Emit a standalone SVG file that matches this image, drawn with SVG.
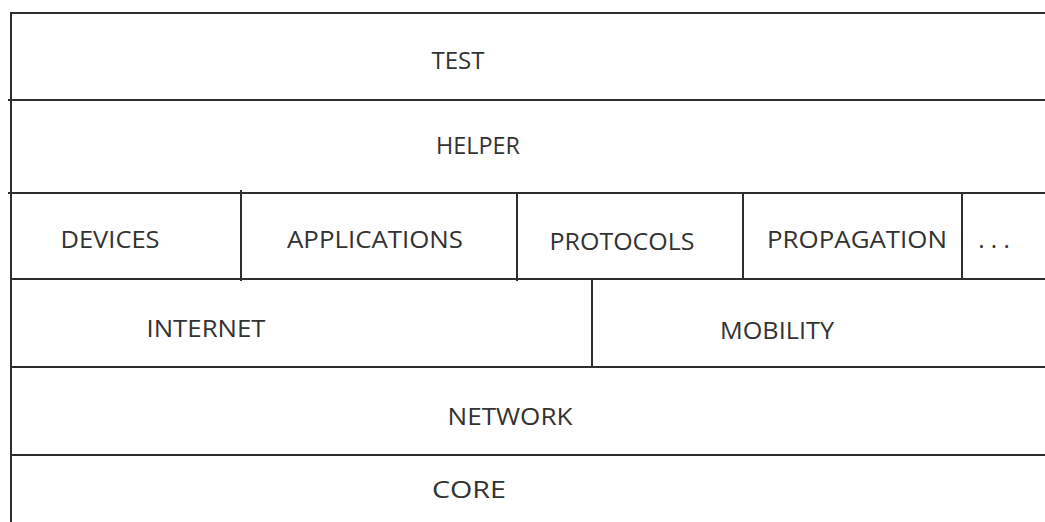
<svg xmlns="http://www.w3.org/2000/svg" width="1045" height="522" viewBox="0 0 1045 522">
<style>
.ln{stroke:#2e2e2e;stroke-width:2;fill:none}
.t{font-family:"Open Sans","Liberation Sans",sans-serif;font-size:24px;fill:#333333;text-anchor:middle}
</style>
<rect width="1045" height="522" fill="#ffffff"/>
<g id="grid">
<line class="ln" x1="11" y1="12" x2="11" y2="522"/>
<line class="ln" x1="10" y1="13" x2="1045" y2="13"/>
<line class="ln" x1="8" y1="100" x2="1045" y2="100"/>
<line class="ln" x1="8" y1="193" x2="1045" y2="193"/>
<line class="ln" x1="11" y1="279" x2="1045" y2="279"/>
<line class="ln" x1="11" y1="367" x2="1045" y2="367"/>
<line class="ln" x1="11" y1="455" x2="1045" y2="455"/>
<line class="ln" x1="241" y1="190" x2="241" y2="281"/>
<line class="ln" x1="517" y1="193" x2="517" y2="281"/>
<line class="ln" x1="743" y1="193" x2="743" y2="279"/>
<line class="ln" x1="962" y1="193" x2="962" y2="279"/>
<line class="ln" x1="592" y1="279" x2="592" y2="367"/>
</g>
<g id="test"><text class="t" x="458" y="69" textLength="53" lengthAdjust="spacingAndGlyphs">TEST</text></g>
<g id="helper"><text class="t" x="478" y="154" textLength="84" lengthAdjust="spacingAndGlyphs">HELPER</text></g>
<g id="devices"><text class="t" x="110" y="248" textLength="99" lengthAdjust="spacingAndGlyphs">DEVICES</text></g>
<g id="applications"><text class="t" x="375" y="248" textLength="176" lengthAdjust="spacingAndGlyphs">APPLICATIONS</text></g>
<g id="protocols"><text class="t" x="622" y="250" textLength="145" lengthAdjust="spacingAndGlyphs">PROTOCOLS</text></g>
<g id="propagation"><text class="t" x="857" y="248" textLength="180" lengthAdjust="spacingAndGlyphs">PROPAGATION</text></g>
<g id="more"><text class="t" x="994" y="248">. . .</text></g>
<g id="internet"><text class="t" x="206" y="337" textLength="119" lengthAdjust="spacingAndGlyphs">INTERNET</text></g>
<g id="mobility"><text class="t" x="777" y="339" textLength="114" lengthAdjust="spacingAndGlyphs">MOBILITY</text></g>
<g id="network"><text class="t" x="510" y="425" textLength="125" lengthAdjust="spacingAndGlyphs">NETWORK</text></g>
<g id="core"><text class="t" x="469" y="498" textLength="74" lengthAdjust="spacingAndGlyphs">CORE</text></g>
</svg>
